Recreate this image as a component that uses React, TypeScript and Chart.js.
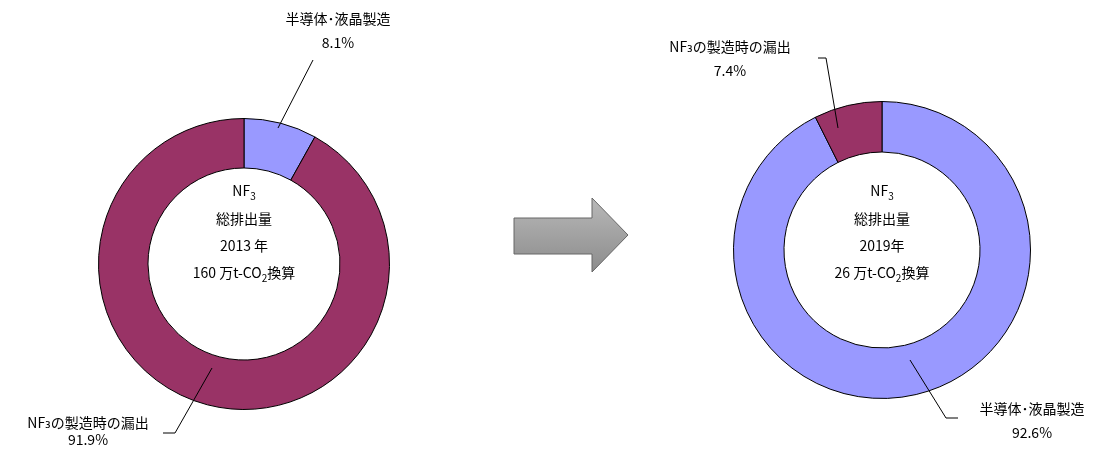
import React, { useRef, useEffect } from 'react';
import { Chart, registerables } from 'chart.js';

Chart.register(...registerables);

const categories = ['半導体･液晶製造', 'NF₃の製造時の漏出'];
const values2013 = [8.1, 91.9];
const values2019 = [92.6, 7.4];
const colors = ['#9999FF', '#993366'];

const font = '"Noto Sans CJK JP", "DejaVu Sans", sans-serif';

interface PieProps {
  values: number[];
  order: number[];
  left: number;
  top: number;
  size: number;
}

const Pie: React.FC<PieProps> = ({ values, order, left, top, size }) => {
  const ref = useRef<HTMLCanvasElement>(null);

  useEffect(() => {
    if (!ref.current) return;
    const chart = new Chart(ref.current, {
      type: 'doughnut',
      data: {
        labels: order.map(i => categories[i]),
        datasets: [
          {
            data: order.map(i => values[i]),
            backgroundColor: order.map(i => colors[i]),
            borderColor: '#000',
            borderWidth: 1,
          },
        ],
      },
      options: {
        animation: false,
        responsive: false,
        cutout: '66%',
        layout: { padding: 1 },
        plugins: { legend: { display: false }, tooltip: { enabled: false } },
      },
    });
    return () => chart.destroy();
  }, [values, order]);

  return (
    <canvas
      ref={ref}
      width={size}
      height={size}
      style={{ position: 'absolute', left, top, width: size, height: size }}
    />
  );
};

const Txt: React.FC<{ x: number; y: number; children: React.ReactNode }> = ({ x, y, children }) => (
  <div
    style={{
      position: 'absolute',
      left: x - 150,
      top: y - 10,
      width: 300,
      textAlign: 'center',
      fontSize: 14,
      lineHeight: '20px',
      whiteSpace: 'nowrap',
    }}
  >
    {children}
  </div>
);

const Center: React.FC<{ x: number; year: string; amount: string }> = ({ x, year, amount }) => (
  <>
    <Txt x={x} y={190}>NF<sub style={{ fontSize: 10 }}>3</sub></Txt>
    <Txt x={x} y={218}>総排出量</Txt>
    <Txt x={x} y={245}>{year}</Txt>
    <Txt x={x} y={272}>{amount} 万t-CO<sub style={{ fontSize: 10 }}>2</sub>換算</Txt>
  </>
);

const App: React.FC = () => (
  <div style={{ position: 'relative', width: 1102, height: 457, margin: -8, background: '#fff', fontFamily: font, color: '#000', overflow: 'hidden' }}>
    <Pie values={values2013} order={[0, 1]} left={97} top={117} size={294} />
    <Pie values={values2019} order={[0, 1]} left={732} top={100} size={300} />
    <svg width={1102} height={457} style={{ position: 'absolute', left: 0, top: 0 }}>
      <defs>
        <linearGradient id="g" x1="0" y1="0" x2="0" y2="1">
          <stop offset="0" stopColor="#b8b8b8" />
          <stop offset="1" stopColor="#8c8c8c" />
        </linearGradient>
      </defs>
      <polygon points="514,218 592,218 592,198 628,235 592,272 592,254 514,254" fill="url(#g)" stroke="#666" strokeWidth={1} />
      <polyline points="313,60 278,128" fill="none" stroke="#000" strokeWidth={1} />
      <polyline points="163,433 175,433 212,368" fill="none" stroke="#000" strokeWidth={1} />
      <polyline points="818,58 826,58 838,128" fill="none" stroke="#000" strokeWidth={1} />
      <polyline points="958,418 946,418 910,360" fill="none" stroke="#000" strokeWidth={1} />
    </svg>
    <Txt x={338} y={18}>{categories[0]}</Txt>
    <Txt x={338} y={42}>8.1%</Txt>
    <Txt x={88} y={422}>{categories[1]}</Txt>
    <Txt x={88} y={439}>91.9%</Txt>
    <Txt x={730} y={46}>{categories[1]}</Txt>
    <Txt x={730} y={70}>7.4%</Txt>
    <Txt x={1032} y={408}>{categories[0]}</Txt>
    <Txt x={1032} y={432}>92.6%</Txt>
    <Center x={244} year="2013 年" amount="160" />
    <Center x={882} year="2019年" amount="26" />
  </div>
);

export default App;
